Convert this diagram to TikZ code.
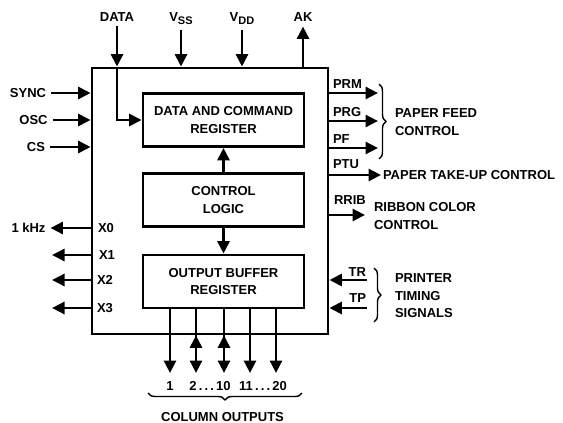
\documentclass[tikz,border=0pt]{standalone}
\usepackage{fontspec}
\setmainfont{Liberation Sans}
\usetikzlibrary{arrows.meta,positioning,calc,decorations.pathreplacing}
\newcommand{\pinfont}{\fontsize{13}{17.5}\selectfont\bfseries}
\newcommand{\subpin}[1]{\raisebox{-3pt}{\fontsize{11}{11}\selectfont #1}}

\begin{document}
\begin{tikzpicture}[x=1pt, y=-1pt, font=\pinfont,
    sig/.style={line width=2.8pt, -{Triangle[length=12.5pt,width=12pt]}},
    blk/.style={draw, line width=2.8pt, minimum width=161pt, minimum height=53pt, align=center, inner sep=0pt},
    pin/.style={inner sep=2pt, outer sep=3pt},
    txt/.style={inner sep=2pt, outer sep=0pt, align=left, anchor=west},
    grp/.style={line width=1.4pt, decorate, decoration={brace, amplitude=7pt}}]
    \useasboundingbox (0,0) rectangle (563,423);

    % Chip outline and the three blocks
    \node[draw, line width=2.8pt, minimum width=236pt, minimum height=266pt, inner sep=0pt] (chip) at (210,201) {};
    \node[blk] (dcr) at (223.5,120) {DATA AND COMMAND\\REGISTER};
    \node[blk] (ctl) at (223.5,200) {CONTROL\\LOGIC};
    \node[blk] (obr) at (223.5,281.5) {OUTPUT BUFFER\\REGISTER};
    \draw[sig] (ctl) -- (dcr);
    \draw[sig] (ctl) -- (obr);

    % Top pins
    \node[pin] (data) at (117,17) {DATA};
    \node[pin] (vss) at (181,19) {V\subpin{SS}};
    \node[pin] (vdd) at (242,19) {V\subpin{DD}};
    \node[pin] (ak) at (303,17) {AK};
    \coordinate (dtop) at (data.south |- chip.north);
    \draw[sig] (data) -- (dtop);
    \draw[sig] (dtop) |- (dcr.west);
    \draw[sig] (vss) -- (vss |- chip.north);
    \draw[sig] (vdd) -- (vdd |- chip.north);
    \draw[sig] (ak |- chip.north) -- (ak);

    % Left inputs
    \node[pin] (sync) at (28,93) {SYNC};
    \node[pin] (osc) at (33.5,120) {OSC};
    \node[pin] (cs) at (36,147) {CS};
    \foreach \n in {sync,osc,cs}
        \draw[sig] (\n) -- (\n -| chip.west);

    % Left outputs
    \node[pin] (x0) at (106,228) {X0};
    \node[pin] (x1) at (107,255) {X1};
    \node[pin] (x2) at (105,280) {X2};
    \node[pin] (x3) at (105,308) {X3};
    \node[pin] (khz) at (28.5,228) {1 kHz};
    \draw[sig] (x0 -| chip.west) -- (khz);
    \foreach \n/\y in {x1/255,x2/280,x3/308} {
        \coordinate (\n e) at (52,\y);
        \draw[sig] (\n -| chip.west) -- (\n e);
    }

    % Right outputs
    \foreach \n/\t/\y in {prm/PRM/93,prg/PRG/121,pf/PF/148} {
        \node[pin, anchor=west] (\n) at (328,\y-9) {\t};
        \coordinate (\n e) at (378,\y);
        \draw[sig] (\n e -| chip.east) -- (\n e);
    }
    \draw[grp] (379,84) -- (379,159);
    \node[txt] (feed) at (393,122) {PAPER FEED\\CONTROL};

    \node[pin, anchor=west] (ptu) at (328,164) {PTU};
    \node[txt] (takeup) at (381,175) {PAPER TAKE-UP CONTROL};
    \draw[sig] (takeup -| chip.east) -- (takeup);

    \node[pin, anchor=west] (rrib) at (329,200) {RRIB};
    \coordinate (rribe) at (365,215);
    \draw[sig] (rribe -| chip.east) -- (rribe);
    \node[txt] (ribbon) at (372,216) {RIBBON COLOR\\CONTROL};

    % Right inputs
    \node[pin, anchor=east] (tr) at (371,272) {TR};
    \node[pin, anchor=east] (tp) at (371,298) {TP};
    \coordinate (tre) at (367,280);
    \coordinate (tpe) at (367,308);
    \draw[sig] (tre) -- (tre -| chip.east);
    \draw[sig] (tpe) -- (tpe -| chip.east);
    \draw[grp] (374,268) -- (374,322);
    \node[txt] (timing) at (393,296) {PRINTER\\TIMING\\SIGNALS};

    % Column outputs
    \foreach \c/\x in {c1/170,c2/196,c3/224,c4/250,c5/276} {
        \coordinate (\c) at (\x,373);
        \draw[sig] (obr.south -| \c) -- (\c);
    }
    \foreach \c in {c2,c3}
        \draw[sig] ($(\c)+(0,-20)$) -- (\c |- chip.south);
    \node[pin] (n1) at (170,386) {1};
    \node[pin] (n2) at (210,386) {2\,.\,.\,.\,10};
    \node[pin] (n11) at (263,386) {11\,.\,.\,.\,20};
    \draw[grp] (302,393) -- (148,393);
    \node[pin] (cols) at (222.5,417) {COLUMN OUTPUTS};
\end{tikzpicture}
\end{document}
